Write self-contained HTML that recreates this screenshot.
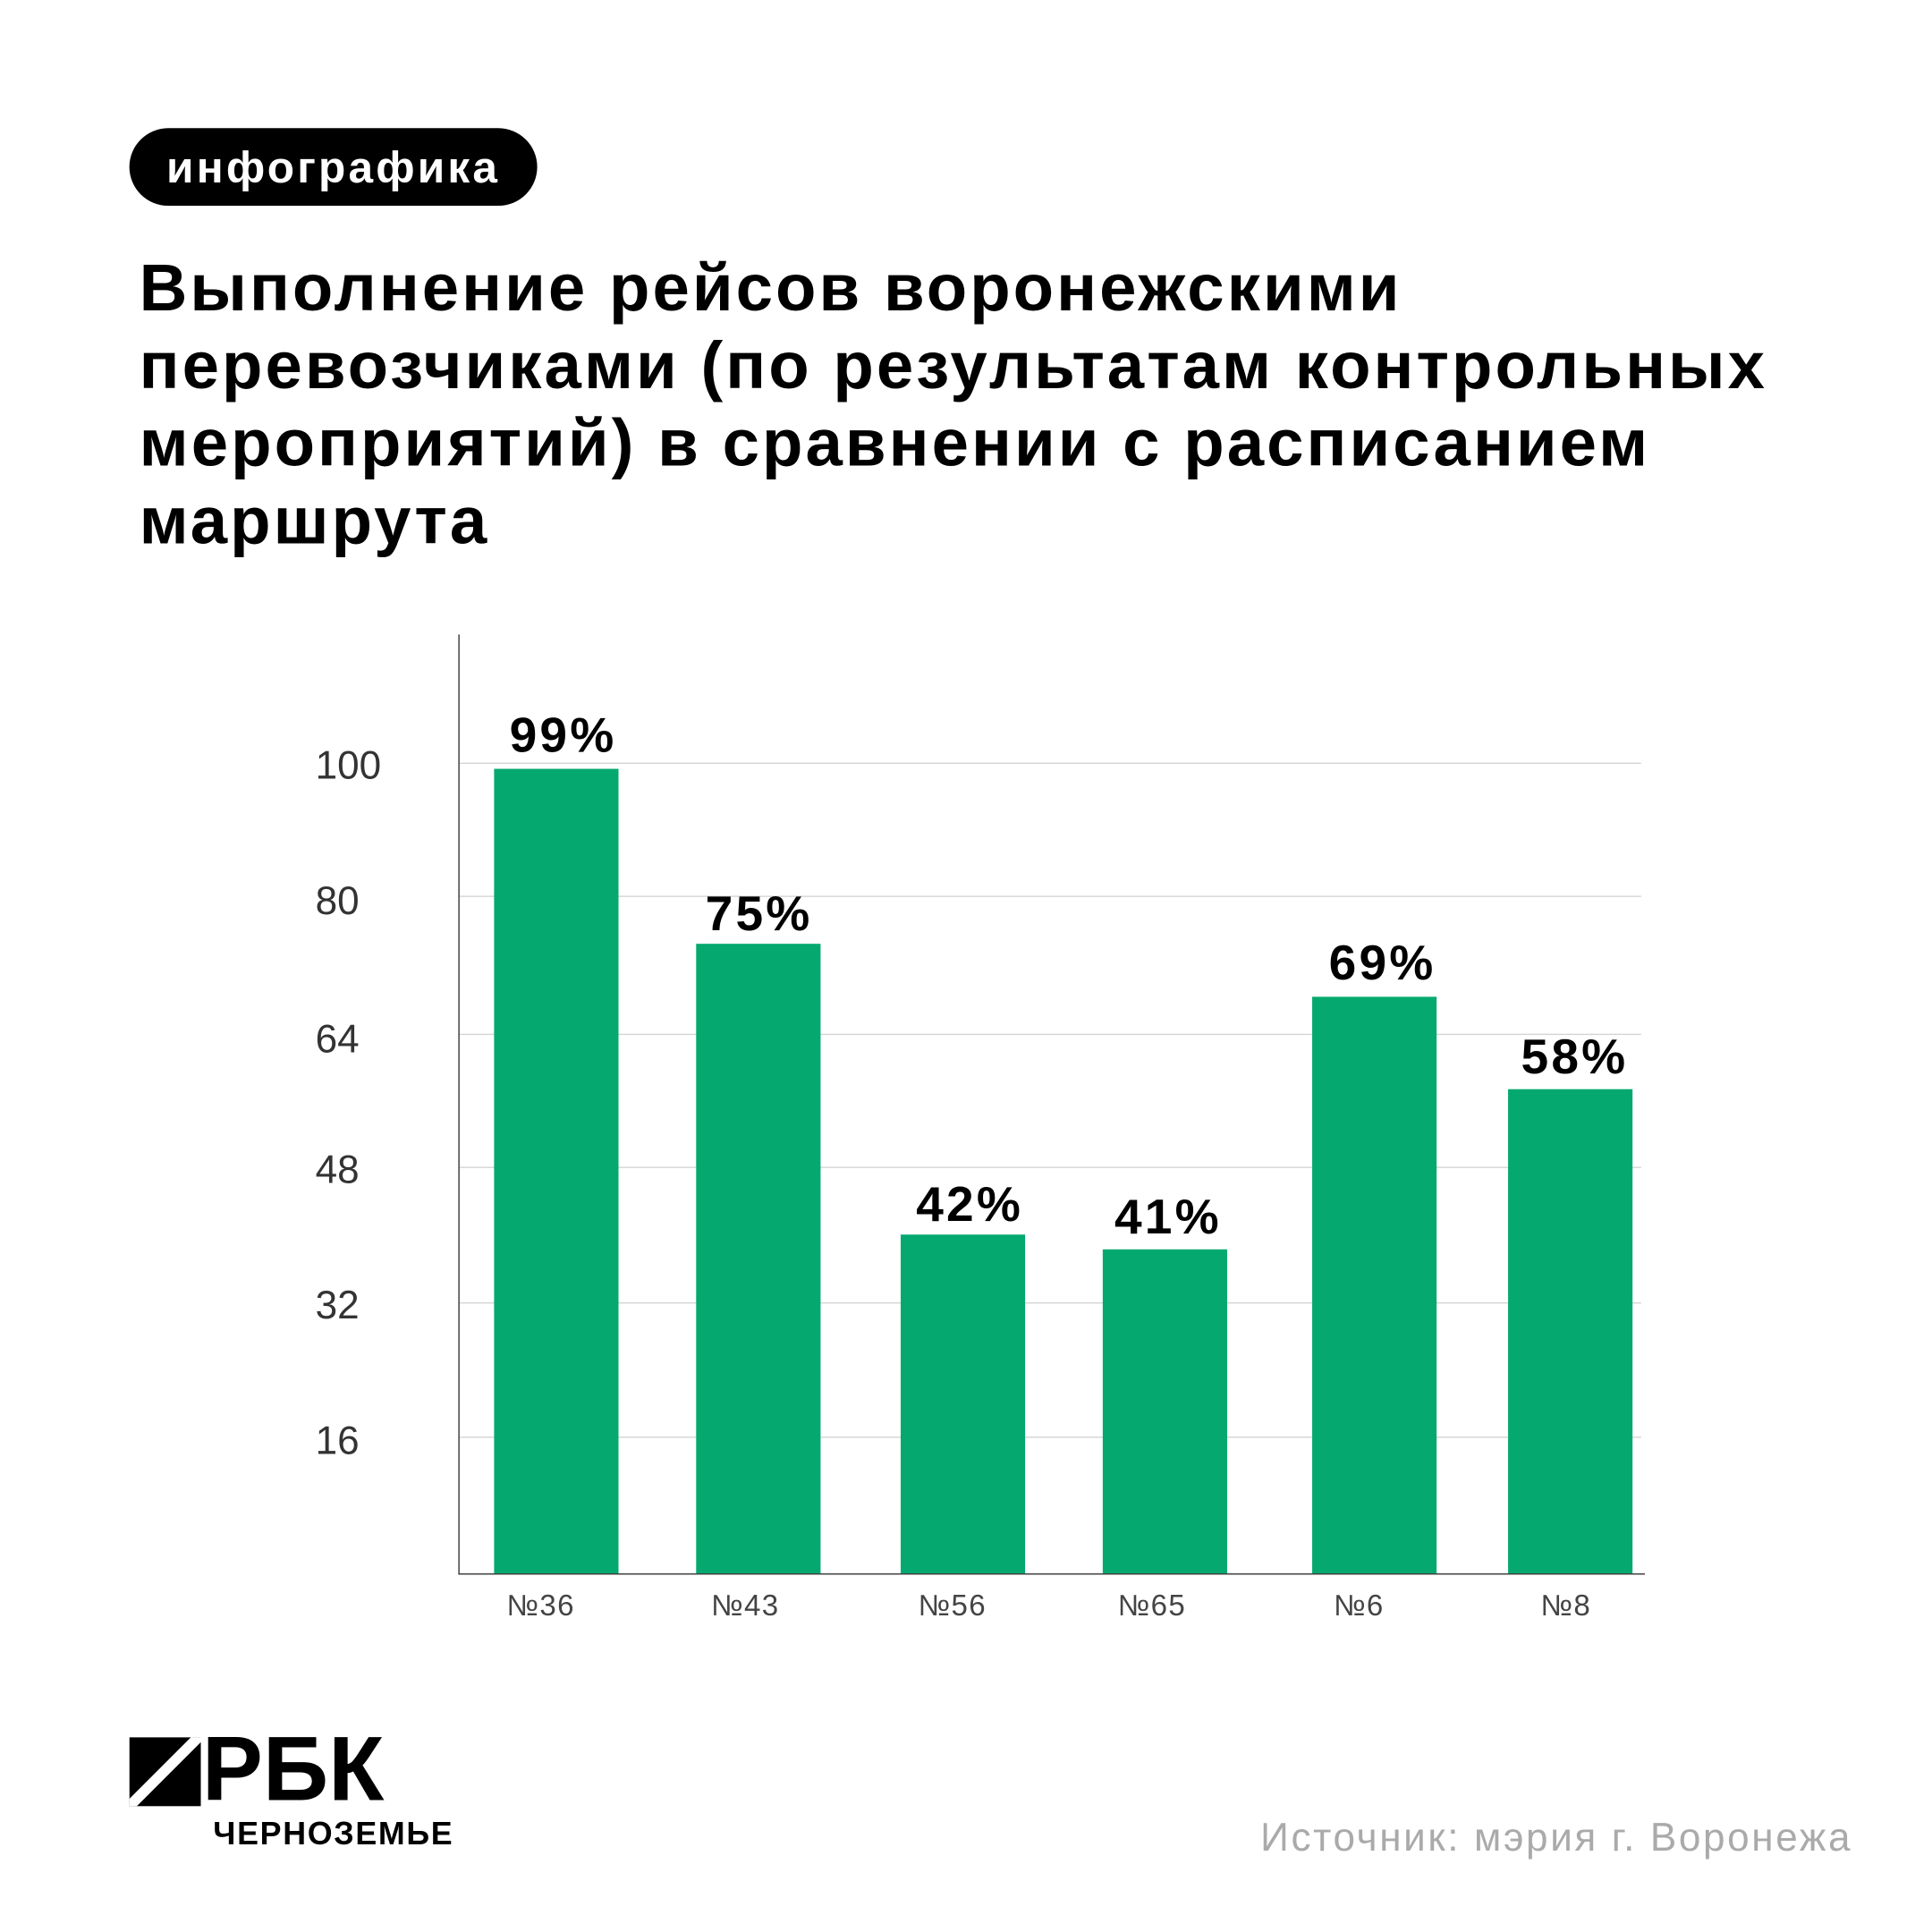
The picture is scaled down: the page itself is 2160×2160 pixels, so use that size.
<!DOCTYPE html>
<html><head><meta charset="utf-8"><style>
html,body{margin:0;padding:0;background:#fff;}
body{width:2160px;height:2160px;overflow:hidden;position:relative;}
#w{position:absolute;left:0;top:0;width:1568px;height:1568px;transform:scale(1.3775);transform-origin:0 0;font-family:"Liberation Sans","DejaVu Sans",sans-serif;}
.a{position:absolute;white-space:nowrap;}
.pill{left:105px;top:104px;width:331px;height:63px;background:#000;border-radius:32px;color:#fff;font-size:36px;line-height:63px;text-align:center;font-weight:bold;letter-spacing:2.3px}
.title{left:113px;top:203px;font-size:54px;font-weight:bold;line-height:63px;color:#000;letter-spacing:2.2px}
.grid{position:absolute;left:372px;width:960px;height:1px;background:#d4d4d4}
.tick{position:absolute;left:256px;font-size:32px;color:#333;line-height:32px}
.bar{position:absolute;background:#05a96f;width:101px}
.val{position:absolute;width:140px;text-align:center;font-size:40px;font-weight:bold;color:#000;line-height:40px;letter-spacing:2.3px}
.xl{position:absolute;width:120px;text-align:center;font-size:24px;color:#444;top:1290px;letter-spacing:1px}
</style></head><body><div id="w">
<div class="a pill">инфографика</div>
<div class="a title">Выполнение рейсов воронежскими<br>перевозчиками (по результатам контрольных<br>мероприятий) в сравнении с расписанием<br>маршрута</div>

<div class="grid" style="top:619px"></div>
<div class="grid" style="top:727px"></div>
<div class="grid" style="top:839px"></div>
<div class="grid" style="top:947px"></div>
<div class="grid" style="top:1057px"></div>
<div class="grid" style="top:1166px"></div>
<div class="tick" style="top:605px">100</div>
<div class="tick" style="top:715px">80</div>
<div class="tick" style="top:827px">64</div>
<div class="tick" style="top:933px">48</div>
<div class="tick" style="top:1043px">32</div>
<div class="tick" style="top:1153px">16</div>

<div class="bar" style="left:401px;top:624px;height:653px"></div>
<div class="bar" style="left:565px;top:766px;height:511px"></div>
<div class="bar" style="left:731px;top:1002px;height:275px"></div>
<div class="bar" style="left:895px;top:1014px;height:263px"></div>
<div class="bar" style="left:1065px;top:809px;height:468px"></div>
<div class="bar" style="left:1224px;top:884px;height:393px"></div>

<div style="position:absolute;left:372px;top:515px;width:1px;height:763px;background:#333"></div>
<div style="position:absolute;left:372px;top:1277px;width:963px;height:1px;background:#333"></div>

<div class="val" style="left:387px;top:577px">99%</div>
<div class="val" style="left:546px;top:722px">75%</div>
<div class="val" style="left:717px;top:958px">42%</div>
<div class="val" style="left:878px;top:968px">41%</div>
<div class="val" style="left:1052px;top:762px">69%</div>
<div class="val" style="left:1208px;top:838px">58%</div>

<div class="xl" style="left:379px">№36</div>
<div class="xl" style="left:545px">№43</div>
<div class="xl" style="left:713px">№56</div>
<div class="xl" style="left:875px">№65</div>
<div class="xl" style="left:1043px">№6</div>
<div class="xl" style="left:1211px">№8</div>

<svg style="position:absolute;left:105px;top:1410px" width="58" height="56" viewBox="0 0 58 56">
<rect width="58" height="56" fill="#000"/><polygon points="0,56 0,50 50,0 58,0 58,4 6,56" fill="#fff"/></svg>
<div class="a" style="left:164px;top:1398px;font-size:74px;font-weight:bold;line-height:76px;color:#000">РБК</div>
<div class="a" style="left:173px;top:1474px;font-size:26px;font-weight:bold;color:#000;line-height:28px;letter-spacing:1.2px">ЧЕРНОЗЕМЬЕ</div>
<div class="a" style="left:1023px;top:1473px;font-size:32px;color:#aaa;line-height:36px;letter-spacing:1.9px">Источник: мэрия г. Воронежа</div>
</div></body></html>
